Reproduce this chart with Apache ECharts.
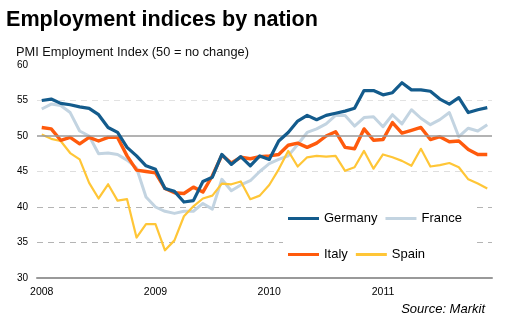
<!DOCTYPE html>
<html>
<head>
<meta charset="utf-8">
<script src="https://cdn.jsdelivr.net/npm/echarts@6/dist/echarts.min.js"></script>
<style>
  html, body { margin: 0; padding: 0; background: #fff; }
  #chart { width: 506px; height: 323px; }
</style>
</head>
<body>
<div id="chart"></div>
<script>
// Monthly PMI employment readings, Jan 2008 – Dec 2011
const years = ['2008', '2009', '2010', '2011'];
const monthNums = ['01', '02', '03', '04', '05', '06', '07', '08', '09', '10', '11', '12'];
const categories = years.flatMap(y => monthNums.map(m => y + '-' + m));

const germany = [
  55.0, 55.2, 54.6, 54.4, 54.1, 53.9, 53.0, 51.2, 50.5, 48.4, 47.2, 45.8,
  45.3, 42.6, 42.2, 40.7, 40.9, 43.6, 44.2, 47.4, 46.0, 47.1, 45.8, 47.2,
  46.7, 49.3, 50.5, 52.1, 52.9, 52.3, 52.9, 53.2, 53.5, 53.9, 56.4, 56.4,
  55.8, 56.1, 57.5, 56.5, 56.5, 56.3, 55.2, 54.5, 55.4, 53.3, 53.7, 54.0
];
const france = [
  53.8, 54.5, 54.3, 53.3, 50.7, 50.0, 47.5, 47.6, 47.4, 46.6, 45.5, 41.4,
  40.0, 39.4, 39.1, 39.4, 39.4, 40.5, 39.7, 43.9, 42.3, 43.1, 43.7, 45.0,
  46.1, 46.7, 47.2, 48.8, 50.5, 51.0, 51.7, 52.9, 52.9, 51.4, 52.6, 52.7,
  51.3, 53.0, 51.7, 53.7, 52.5, 51.6, 52.3, 53.3, 49.9, 51.1, 50.7, 51.6
];
const italy = [
  51.2, 51.0, 49.4, 49.8, 48.9, 49.8, 49.3, 49.8, 49.8, 47.2, 45.2, 45.0,
  44.8, 42.6, 42.0, 41.9, 42.8, 42.1, 44.4, 47.3, 46.2, 47.0, 46.8, 47.1,
  47.2, 47.4, 48.7, 49.0, 48.4, 49.0, 50.0, 50.6, 48.4, 48.2, 51.0, 49.4,
  49.5, 51.9, 50.4, 50.8, 51.2, 49.5, 49.9, 49.2, 49.3, 48.1, 47.4, 47.4
];
const spain = [
  50.2, 49.6, 49.3, 47.6, 46.7, 43.4, 41.2, 43.2, 40.9, 41.1, 35.7, 37.6,
  37.6, 33.9, 35.3, 38.7, 40.1, 41.2, 41.6, 43.3, 43.2, 43.6, 41.1, 41.6,
  43.1, 45.3, 47.9, 45.7, 47.0, 47.2, 47.1, 47.2, 45.1, 45.6, 47.9, 45.4,
  47.4, 47.0, 46.5, 45.8, 48.2, 45.7, 45.9, 46.2, 45.6, 43.9, 43.3, 42.6
];
const noChangeLevel = 50;

const FONT = '"Liberation Sans", Arial, Helvetica, sans-serif';
const chart = echarts.init(document.getElementById('chart'), null, { renderer: 'canvas' });

function lineSeries(name, data, color, width, z) {
  return {
    name: name,
    type: 'line',
    data: data,
    symbol: 'none',
    z: z,
    lineStyle: { color: color, width: width, join: 'round' },
    itemStyle: { color: color },
    emphasis: { disabled: true },
    animation: false
  };
}

const legendText = { color: '#000', fontFamily: FONT, fontSize: 13, width: 52 };

chart.setOption({
  animation: false,
  backgroundColor: '#fff',
  grid: { left: 37, right: 14, top: 65, bottom: 45, containLabel: false },
  xAxis: {
    type: 'category',
    data: categories,
    boundaryGap: true,
    axisLine: { lineStyle: { color: '#999', width: 2 } },
    axisTick: { interval: 11, length: 3, lineStyle: { color: '#777', width: 1 } },
    axisLabel: {
      interval: 11,
      formatter: v => v.slice(0, 4),
      color: '#000',
      fontFamily: FONT,
      fontSize: 10.5,
      margin: 9
    },
    splitLine: { show: false }
  },
  yAxis: {
    type: 'value',
    min: 30,
    max: 60,
    interval: 5,
    axisLine: { show: false },
    axisTick: { show: false },
    axisLabel: { color: '#000', fontFamily: FONT, fontSize: 10, margin: 9 },
    splitLine: {
      show: true,
      lineStyle: {
        // 30, 35, 40, 45, 50, 55, 60
        color: ['rgba(0,0,0,0)', '#b4b4b4', '#b4b4b4', '#dedede', 'rgba(0,0,0,0)', '#e2e2e2', 'rgba(0,0,0,0)'],
        type: [6, 5],
        width: 1
      }
    }
  },
  legend: [
    {
      data: ['Germany', 'France'],
      left: 288, top: 212,
      orient: 'horizontal',
      icon: 'rect', itemWidth: 31, itemHeight: 3, itemGap: 8,
      padding: 0,
      textStyle: legendText,
      selectedMode: false
    },
    {
      data: ['Italy', 'Spain'],
      left: 288, top: 248,
      orient: 'horizontal',
      icon: 'rect', itemWidth: 31, itemHeight: 3, itemGap: 8,
      padding: 0,
      textStyle: legendText,
      selectedMode: false
    }
  ],
  graphic: [
    {
      type: 'rect', z: 1, silent: true,
      shape: { x: 283, y: 198, width: 189, height: 66 },
      style: { fill: '#fff' }
    },
    {
      type: 'text', left: 6, top: 9, silent: true,
      style: { text: 'Employment indices by nation', font: 'bold 21.6px ' + FONT, fill: '#000' }
    },
    {
      type: 'text', left: 16, top: 46, silent: true,
      style: { text: 'PMI Employment Index (50 = no change)', font: '12.8px ' + FONT, fill: '#111' }
    },
    {
      type: 'text', right: 21, top: 303, silent: true,
      style: { text: 'Source: Markit', font: 'italic 13px ' + FONT, fill: '#000' }
    }
  ],
  series: [
    {
      name: 'level50', type: 'line', data: [], z: 1, silent: true,
      markLine: {
        silent: true, symbol: 'none', label: { show: false },
        lineStyle: { color: '#9a9a9a', width: 1.5, type: 'solid' },
        data: [{ yAxis: noChangeLevel }],
        animation: false
      }
    },
    lineSeries('France', france, '#c3d4e1', 3, 2),
    lineSeries('Spain', spain, '#ffc637', 2.2, 3),
    lineSeries('Italy', italy, '#ff5a0c', 3.4, 4),
    lineSeries('Germany', germany, '#135b8c', 3.2, 5)
  ]
});
</script>
</body>
</html>
